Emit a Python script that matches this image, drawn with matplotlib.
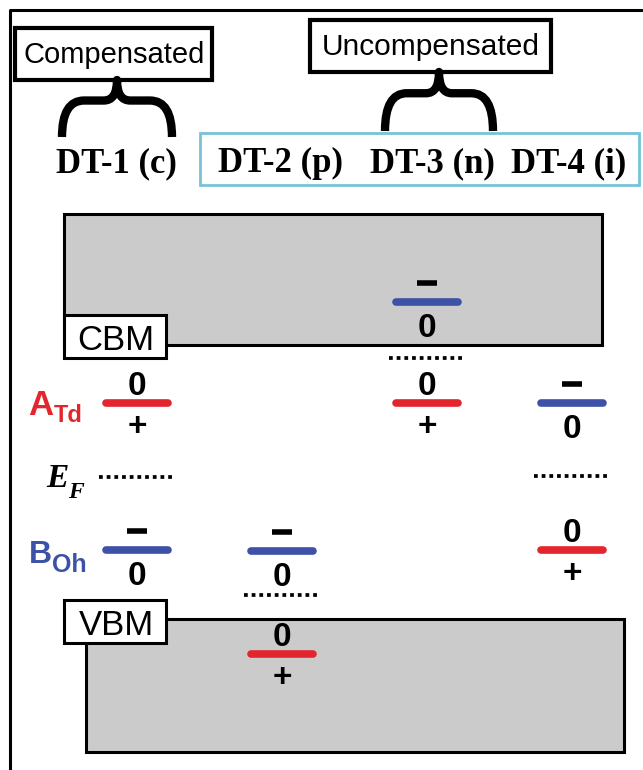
import matplotlib
matplotlib.use("Agg")
import matplotlib.pyplot as plt
from matplotlib.patches import Rectangle, PathPatch
from matplotlib.path import Path

RED = "#e3262d"
BLUE = "#3d52a6"
GRAY = "#cbcbcb"

# defect types (columns)
columns = ["DT-1 (c)", "DT-2 (p)", "DT-3 (n)", "DT-4 (i)"]
column_x = [116, 281, 432, 569]
level_x = [137, 282, 427, 572]

# defect levels: column index, level position (px from top), kind, charge above, charge below
level_col = [0, 2, 2, 3, 0, 1, 1, 3]
level_y = [403, 302, 403, 403, 550, 551, 654, 550]
level_kind = ["A", "B", "A", "B", "B", "B", "A", "A"]
level_above = ["0", "-", "0", "-", "-", "-", "0", "0"]
level_below = ["+", "0", "+", "0", "0", "0", "+", "+"]

# Fermi levels (dotted)
ef_col = [0, 1, 2, 3]
ef_y = [477, 595, 358, 476]


def brace(ax, x0, x1, ytip, ybot):
    xm = (x0 + x1) / 2
    ys = ytip + 0.36 * (ybot - ytip)
    q = 0.2 * (x1 - x0)
    verts = [(x0, ybot), (x0, ys), (x0 + q, ys),
             (xm - q * 0.6, ys), (xm, ys), (xm, ytip),
             (xm, ys), (xm + q * 0.6, ys),
             (x1 - q, ys), (x1, ys), (x1, ybot)]
    codes = [Path.MOVETO, Path.CURVE3, Path.CURVE3,
             Path.LINETO, Path.CURVE3, Path.CURVE3,
             Path.CURVE3, Path.CURVE3,
             Path.LINETO, Path.CURVE3, Path.CURVE3]
    ax.add_patch(PathPatch(Path(verts, codes), fill=False, lw=6,
                           capstyle="butt", joinstyle="round", color="black"))


fig = plt.figure(figsize=(6.43, 7.7), dpi=100)
ax = fig.add_axes([0, 0, 1, 1])
ax.set_xlim(0, 643)
ax.set_ylim(770, 0)
ax.axis("off")

# outer frame
ax.plot([10, 10, 643], [770, 10, 10], color="black", lw=2.2)

sans = "Liberation Sans"
serif = "Liberation Serif"

# group boxes
ax.add_patch(Rectangle((15, 28), 197, 52, fill=False, lw=3, ec="black"))
ax.text(114, 63, "Compensated", ha="center", va="baseline", fontsize=21, family=sans)
ax.add_patch(Rectangle((310, 20), 241, 52, fill=False, lw=3, ec="black"))
ax.text(431, 55, "Uncompensated", ha="center", va="baseline", fontsize=21.5, family=sans)
brace(ax, 62, 172, 80, 137)
brace(ax, 385, 493, 72, 131)

# cyan box around uncompensated
ax.add_patch(Rectangle((200, 133), 439, 52, fill=False, lw=2, ec="#76c3d8"))
for name, x in zip(columns, column_x):
    ax.text(x, 172, name, ha="center", va="baseline", fontsize=25,
            family=serif, weight="bold")

# bands
ax.add_patch(Rectangle((64, 214), 538, 131, fc=GRAY, ec="black", lw=2.2))
ax.add_patch(Rectangle((86, 619), 538, 133, fc=GRAY, ec="black", lw=2.2))
ax.add_patch(Rectangle((64, 315), 102, 43, fc="white", ec="black", lw=2.2))
ax.text(116, 350, "CBM", ha="center", va="baseline", fontsize=25, family=sans)
ax.add_patch(Rectangle((64, 600), 102, 43, fc="white", ec="black", lw=2.2))
ax.text(116, 635, "VBM", ha="center", va="baseline", fontsize=25, family=sans)

# defect levels
for c, y, k, up, dn in zip(level_col, level_y, level_kind, level_above, level_below):
    x = level_x[c]
    col = RED if k == "A" else BLUE
    ax.plot([x - 31, x + 31], [y, y], color=col, lw=5.5, solid_capstyle="round")
    if up == "-":
        ax.plot([x - 10, x + 10], [y - 19, y - 19], color="black", lw=4,
                solid_capstyle="butt")
    else:
        ax.text(x, y - 8, up, ha="center", va="baseline", fontsize=24,
                family=sans, weight="bold")
    ax.text(x, y + (35 if dn == "0" else 33), dn, ha="center", va="baseline",
            fontsize=24, family=sans, weight="bold")

# Fermi levels
for c, y in zip(ef_col, ef_y):
    x = level_x[c]
    ax.plot([x - 38, x + 38], [y, y], color="black", lw=2.7,
            linestyle=(0, (1, 1.05)))

# row labels
ax.text(53, 415, "A", ha="right", va="baseline", fontsize=25,
        family=sans, weight="bold", color=RED)
ax.text(54, 422, "Td", ha="left", va="baseline", fontsize=17,
        family=sans, weight="bold", color=RED)
ax.text(52, 563, "B", ha="right", va="baseline", fontsize=23,
        family=sans, weight="bold", color=BLUE)
ax.text(52, 572, "Oh", ha="left", va="baseline", fontsize=18,
        family=sans, weight="bold", color=BLUE)
ax.text(46, 487, "E", ha="left", va="baseline", fontsize=24,
        family=serif, weight="bold", style="italic")
ax.text(68, 498, "F", ha="left", va="baseline", fontsize=17,
        family=serif, weight="bold", style="italic")

fig.savefig("out.png", dpi=100)
